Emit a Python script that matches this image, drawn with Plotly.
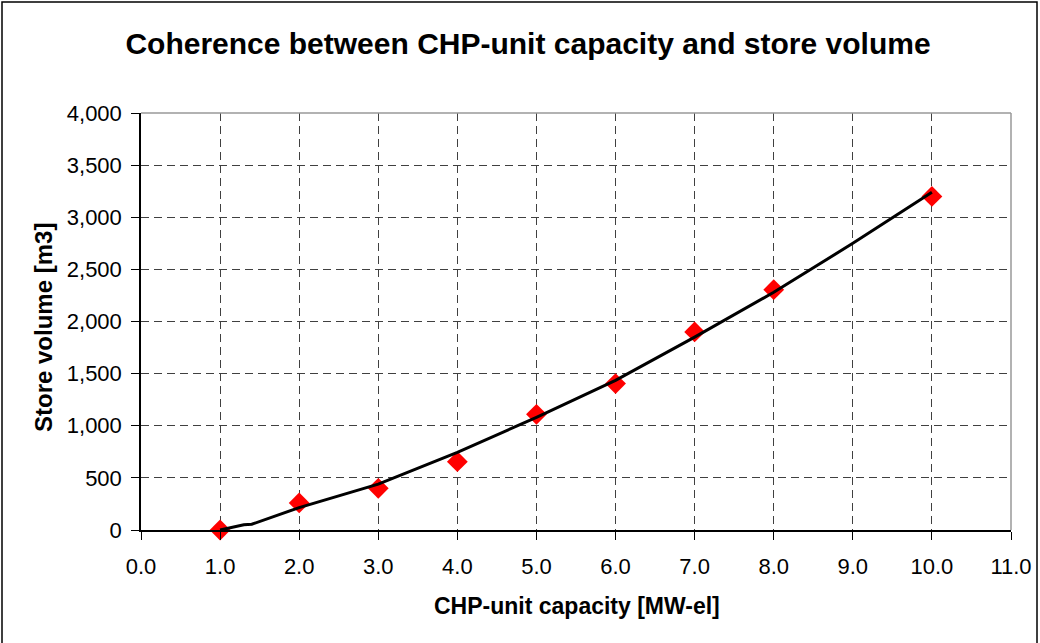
"""Coherence between CHP-unit capacity and store volume."""

import plotly.graph_objects as go

# ── Data ──────────────────────────────────────────────────────────────────────

capacity_mw = [1, 2, 3, 4, 5, 6, 7, 8, 10]
store_m3 = [0, 260, 400, 655, 1110, 1405, 1900, 2305, 3200]

trend_x = [1.0, 1.3, 1.4, 2.0, 3.0, 4.0, 5.0, 6.0, 7.0, 8.0, 9.0, 10.0]
trend_y = [0, 50, 55, 215, 440, 745, 1080, 1435, 1850, 2280, 2750, 3240]

x_ticks = [0, 1, 2, 3, 4, 5, 6, 7, 8, 9, 10, 11]
y_ticks = [0, 500, 1000, 1500, 2000, 2500, 3000, 3500, 4000]

# ── Layout constants ──────────────────────────────────────────────────────────

W, H = 1040, 643
M_L, M_R, M_T, M_B = 141, 29, 113, 113
PW, PH = W - M_L - M_R, H - M_T - M_B
_FONT = "Liberation Sans, Arial, sans-serif"


def _px(x):
    return (x - M_L) / PW


def _py(y):
    return (H - M_B - y) / PH


fig = go.Figure()
# markers first so the trend line is drawn over them, as in the original
fig.add_trace(go.Scatter(
    x=capacity_mw, y=store_m3,
    mode="markers", name="Store volume",
    marker=dict(symbol="diamond", size=16, color="#ff0000", line=dict(width=0)),
    cliponaxis=False,
))
fig.add_trace(go.Scatter(
    x=trend_x, y=trend_y,
    mode="lines", name="Trend",
    line=dict(color="black", width=3),
))

axis_common = dict(
    showgrid=True, griddash="8px,5px", gridcolor="#404040", gridwidth=1,
    zeroline=False, showline=True, linecolor="black", linewidth=1.5,
    ticks="outside", ticklen=8, tickcolor="black", tickwidth=1,
    tickfont=dict(family=_FONT, size=22, color="black"),
    automargin=False,
)

fig.update_layout(
    width=W, height=H,
    paper_bgcolor="white", plot_bgcolor="white",
    showlegend=False,
    margin=dict(l=M_L, r=M_R, t=M_T, b=M_B),
    title=dict(
        text="<b>Coherence between CHP-unit capacity and store volume</b>",
        x=528 / W, xref="container", xanchor="center",
        y=1 - 43 / H, yref="container", yanchor="middle",
        font=dict(family=_FONT, size=30, color="black"),
    ),
    xaxis=dict(range=[0, 11], tickvals=x_ticks, tickformat=".1f",
               ticklabelstandoff=8, **axis_common),
    yaxis=dict(range=[0, 4000], tickvals=y_ticks, tickformat=",",
               ticklabelstandoff=5, **axis_common),
    annotations=[
        dict(text="<b>CHP-unit capacity [MW-el]</b>", xref="paper", yref="paper",
             x=_px(577), y=_py(606), xanchor="center", yanchor="middle",
             showarrow=False, font=dict(family=_FONT, size=23, color="black")),
        dict(text="<b>Store volume [m3]</b>", xref="paper", yref="paper",
             x=_px(43), y=_py(328), xanchor="center", yanchor="middle",
             textangle=-90, showarrow=False,
             font=dict(family=_FONT, size=24, color="black")),
    ],
    shapes=[
        # grey frame on top / right of plot area
        dict(type="line", xref="paper", yref="paper", x0=0, x1=1, y0=1, y1=1,
             line=dict(color="#999999", width=1.5), layer="above"),
        dict(type="line", xref="paper", yref="paper", x0=1, x1=1, y0=0, y1=1,
             line=dict(color="#999999", width=1.5), layer="above"),
        # outer chart border
        dict(type="rect", xref="paper", yref="paper",
             x0=_px(2), x1=_px(1037), y0=_py(660), y1=_py(2),
             line=dict(color="black", width=1.5), fillcolor="rgba(0,0,0,0)",
             layer="below"),
    ],
)

fig.write_html("out.html", config={"displayModeBar": False},
               post_script="document.body.style.margin='0';")
